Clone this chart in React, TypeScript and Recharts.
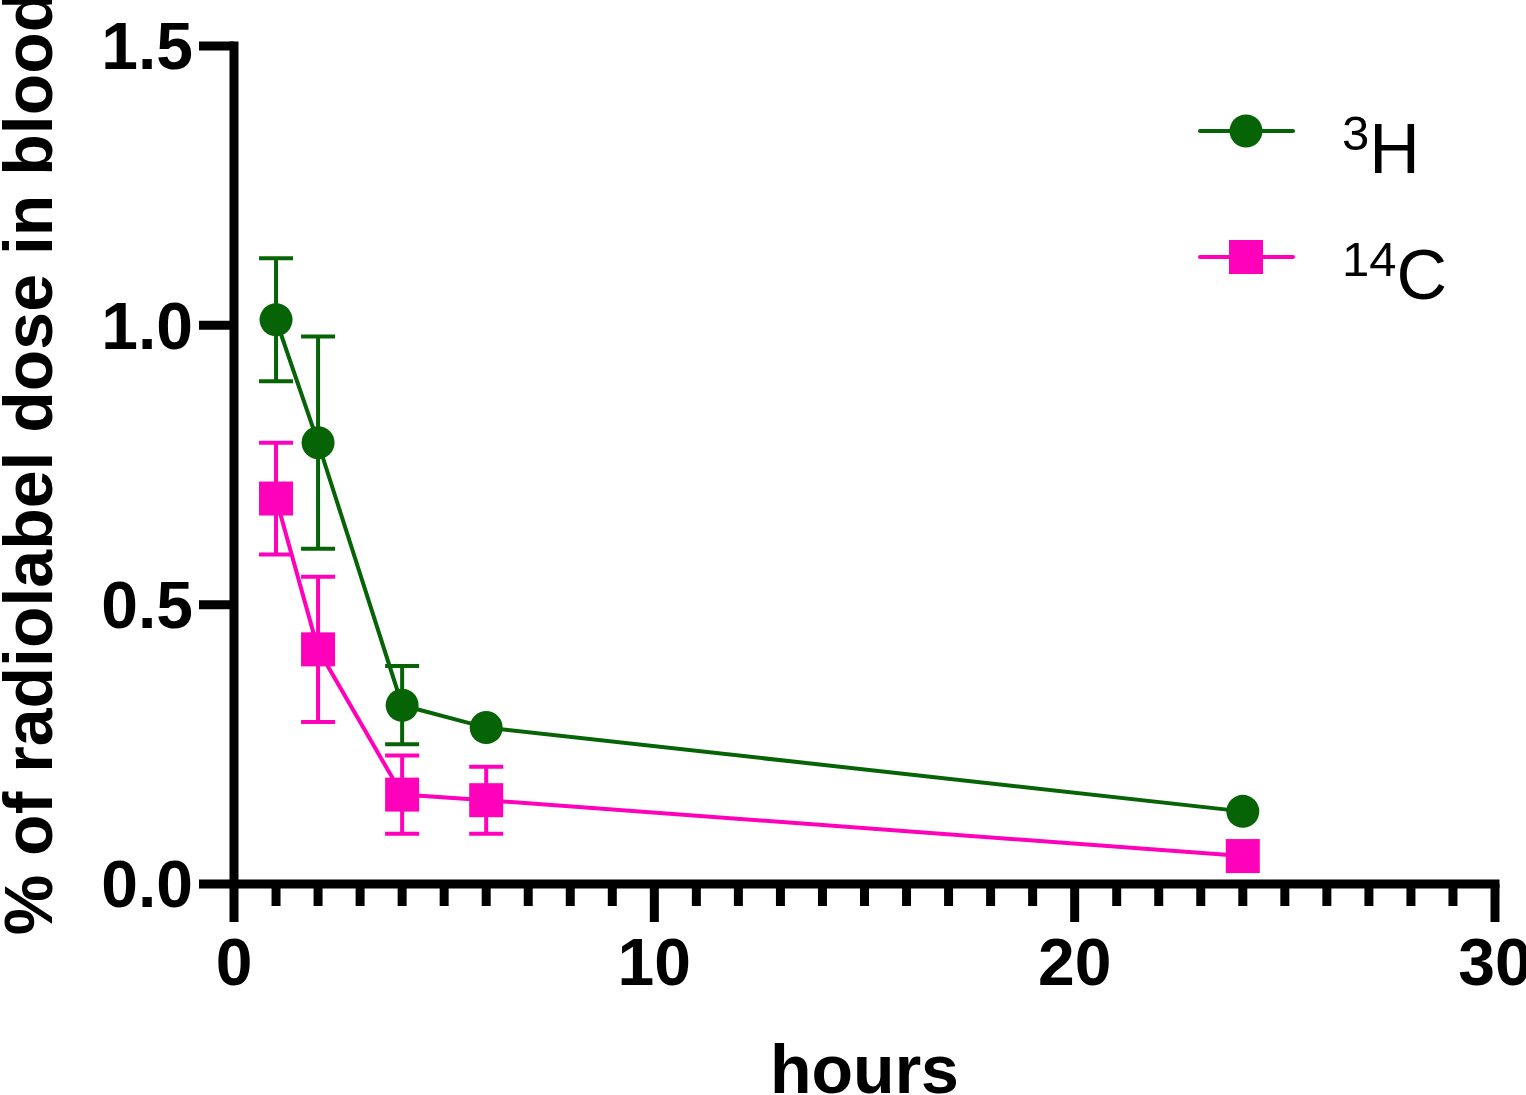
import React from "react";
import { LineChart, Line, XAxis, YAxis, ErrorBar, Legend, Label } from "recharts";

// sampling times (h)
const HOURS = [1, 2, 4, 6, 24];

// % of radiolabel dose in blood, mean and SD
const H3_MEAN = [1.01, 0.79, 0.32, 0.28, 0.13];
const H3_SD = [0.11, 0.19, 0.07, null, null];
const C14_MEAN = [0.69, 0.42, 0.16, 0.15, 0.05];
const C14_SD = [0.1, 0.13, 0.07, 0.06, null];

const X_TICKS = [0, 1, 2, 3, 4, 5, 6, 7, 8, 9, 10, 11, 12, 13, 14, 15, 16, 17, 18, 19, 20, 21, 22, 23, 24, 25, 26, 27, 28, 29, 30];
const X_LABELLED = [0, 10, 20, 30];
const Y_TICKS = [0, 0.5, 1.0, 1.5];

const GREEN = "#066406";
const MAGENTA = "#ff00bb";
const FONT = "'Liberation Sans', Arial, Helvetica, sans-serif";

const SERIES = [
  { key: "h3", err: "h3Err", sup: "3", base: "H", color: GREEN, shape: "circle" },
  { key: "c14", err: "c14Err", sup: "14", base: "C", color: MAGENTA, shape: "square" },
];

const data = HOURS.map((h, i) => ({
  hours: h,
  h3: H3_MEAN[i],
  h3Err: H3_SD[i],
  c14: C14_MEAN[i],
  c14Err: C14_SD[i],
}));

function Marker({ shape, cx, cy, color }: { shape: string; cx: number; cy: number; color: string }) {
  if (shape === "square") {
    return <rect x={cx - 17} y={cy - 17} width={34} height={34} fill={color} />;
  }
  return <circle cx={cx} cy={cy} r={16.5} fill={color} />;
}

function XTick(props: any) {
  const { x, y, payload } = props;
  const major = X_LABELLED.includes(payload.value);
  return (
    <g>
      <line x1={x} x2={x} y1={y} y2={y + (major ? 38 : 22)} stroke="#000" strokeWidth={9} />
      {major && (
        <text x={x} y={y + 101} textAnchor="middle" fontSize={66} fontWeight={700} fontFamily={FONT} fill="#000">
          {payload.value}
        </text>
      )}
    </g>
  );
}

function LegendBox() {
  return (
    <svg width={320} height={240}>
      {SERIES.map((s, i) => {
        const cy = 41 + i * 126;
        return (
          <g key={s.key}>
            <line x1={20} x2={113} y1={cy} y2={cy} stroke={s.color} strokeWidth={4} strokeLinecap="round" />
            <Marker shape={s.shape} cx={66} cy={cy} color={s.color} />
            <text x={162} y={cy + 42} fontFamily={FONT} fill="#000">
              <tspan fontSize={49} dy={-23}>{s.sup}</tspan>
              <tspan fontSize={70} dy={23}>{s.base}</tspan>
            </text>
          </g>
        );
      })}
    </svg>
  );
}

export default function App() {
  return (
    <div style={{ position: "absolute", left: 0, top: 0 }}>
      <LineChart width={1526} height={1095} data={data} margin={{ top: 46, right: 31, bottom: 0, left: 0 }}>
        <XAxis
          dataKey="hours"
          type="number"
          domain={[0, 30]}
          ticks={X_TICKS}
          interval={0}
          height={211}
          tickSize={0}
          tickMargin={0}
          tickLine={false}
          tick={<XTick />}
          axisLine={{ stroke: "#000", strokeWidth: 9, strokeLinecap: "square" }}
        >
          <Label
            content={({ viewBox }: any) => (
              <text
                x={viewBox.x + viewBox.width / 2}
                y={viewBox.y + 209}
                textAnchor="middle"
                fontSize={68}
                fontWeight={700}
                fontFamily={FONT}
                fill="#000"
              >
                hours
              </text>
            )}
          />
        </XAxis>
        <YAxis
          type="number"
          domain={[0, 1.5]}
          ticks={Y_TICKS}
          interval={0}
          width={234}
          tickSize={35}
          tickMargin={6}
          tickFormatter={(v: number) => v.toFixed(1)}
          tick={{ fill: "#000", fontSize: 66, fontWeight: 700, fontFamily: FONT }}
          tickLine={{ stroke: "#000", strokeWidth: 9 }}
          axisLine={{ stroke: "#000", strokeWidth: 9, strokeLinecap: "square" }}
        >
          <Label
            content={({ viewBox }: any) => {
              const cx = viewBox.x + 52;
              const cy = viewBox.y + viewBox.height / 2 - 2;
              return (
                <text
                  x={cx}
                  y={cy}
                  transform={`rotate(-90 ${cx} ${cy})`}
                  textAnchor="middle"
                  fontSize={68}
                  fontWeight={700}
                  fontFamily={FONT}
                  fill="#000"
                >
                  % of radiolabel dose in blood
                </text>
              );
            }}
          />
        </YAxis>
        <Legend
          layout="horizontal"
          verticalAlign="middle"
          align="center"
          content={() => <LegendBox />}
          wrapperStyle={{ position: "absolute", left: 1180, top: 90, width: 320, height: 240 }}
        />
        {SERIES.map((s) => (
          <Line
            key={s.key}
            dataKey={s.key}
            type="linear"
            stroke={s.color}
            strokeWidth={4}
            isAnimationActive={false}
            dot={(p: any) => <Marker key={`${s.key}-${p.index}`} shape={s.shape} cx={p.cx} cy={p.cy} color={s.color} />}
            activeDot={false}
          >
            <ErrorBar dataKey={s.err} width={17} stroke={s.color} strokeWidth={4} direction="y" isAnimationActive={false} />
          </Line>
        ))}
      </LineChart>
    </div>
  );
}
